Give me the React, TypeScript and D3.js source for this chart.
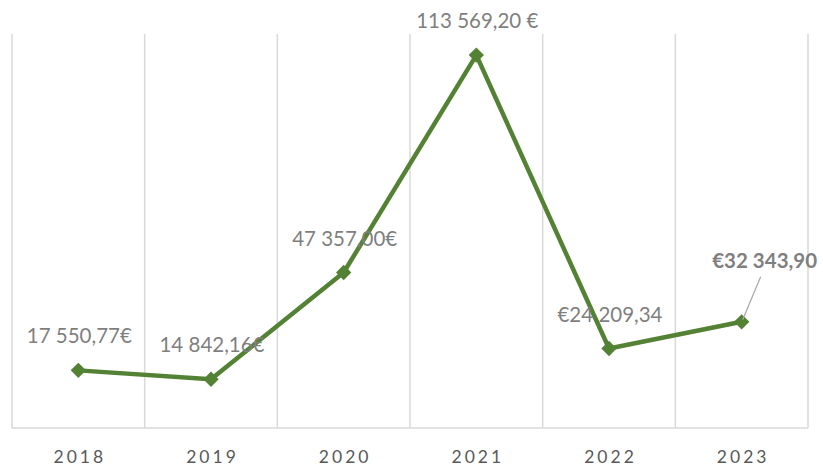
import React from "react";
import * as d3 from "d3";

const years = ["2018", "2019", "2020", "2021", "2022", "2023"];
const values = [17550.77, 14842.16, 47357.0, 113569.2, 24209.34, 32343.9];
const labels = ["17 550,77€", "14 842,16€", "47 357,00€", "113 569,20 €", "€24 209,34", "€32 343,90"];
const boldLabel = [false, false, false, false, false, true];

const W = 823;
const H = 466;
const left = 12;
const right = 808;
const top = 34;
const bottom = 428;

export default function App() {
  const x = d3.scaleBand<string>().domain(years).range([left, right]).padding(0);
  const y = d3.scaleLinear().domain([0, 120000]).range([bottom, top]);
  const cx = (d: string) => (x(d) as number) + x.bandwidth() / 2;
  const line = d3
    .line<number>()
    .x((_, i) => cx(years[i]))
    .y((v) => y(v));
  const gridX = years.map((d) => x(d) as number).concat([right]);
  const diamond = d3.symbol().type(d3.symbolDiamond2 ?? d3.symbolDiamond).size(150)();

  return (
    <svg width={W} height={H} style={{ position: "absolute", left: 0, top: 0 }}>
      <rect x={0} y={0} width={W} height={H} fill="#fff" />
      {gridX.map((gx, i) => (
        <line key={i} x1={gx} x2={gx} y1={top} y2={bottom} stroke="#d9d9d9" strokeWidth={1.5} />
      ))}
      <line x1={left} x2={right} y1={bottom} y2={bottom} stroke="#d9d9d9" strokeWidth={1.5} />
      {years.map((d) => (
        <text
          key={d}
          x={cx(d) + 1.5}
          y={463}
          textAnchor="middle"
          fontFamily="Lato, 'Open Sans', sans-serif"
          fontSize={17.5}
          letterSpacing={3}
          fill="#595959"
        >
          {d}
        </text>
      ))}
      <path d={line(values) ?? ""} fill="none" stroke="#548235" strokeWidth={4.5} strokeLinejoin="round" />
      {values.map((v, i) => (
        <path key={i} d={diamond ?? ""} transform={`translate(${cx(years[i])},${y(v)})`} fill="#548235" />
      ))}
      {values.map((v, i) => {
        const last = i === values.length - 1;
        const lx = cx(years[i]) + (last ? 23 : 1);
        const ly = y(v) - (last ? 54 : 27);
        return (
          <text
            key={i}
            x={lx}
            y={ly}
            textAnchor="middle"
            fontFamily="Lato, 'Open Sans', sans-serif"
            fontSize={20.5}
            fontWeight={boldLabel[i] ? 700 : 400}
            fill="#7f7f7f"
          >
            {labels[i]}
          </text>
        );
      })}
      <line
        x1={cx(years[5]) + 19}
        y1={y(values[5]) - 45}
        x2={cx(years[5]) + 1}
        y2={y(values[5]) - 2}
        stroke="#a6a6a6"
        strokeWidth={1.2}
      />
    </svg>
  );
}
